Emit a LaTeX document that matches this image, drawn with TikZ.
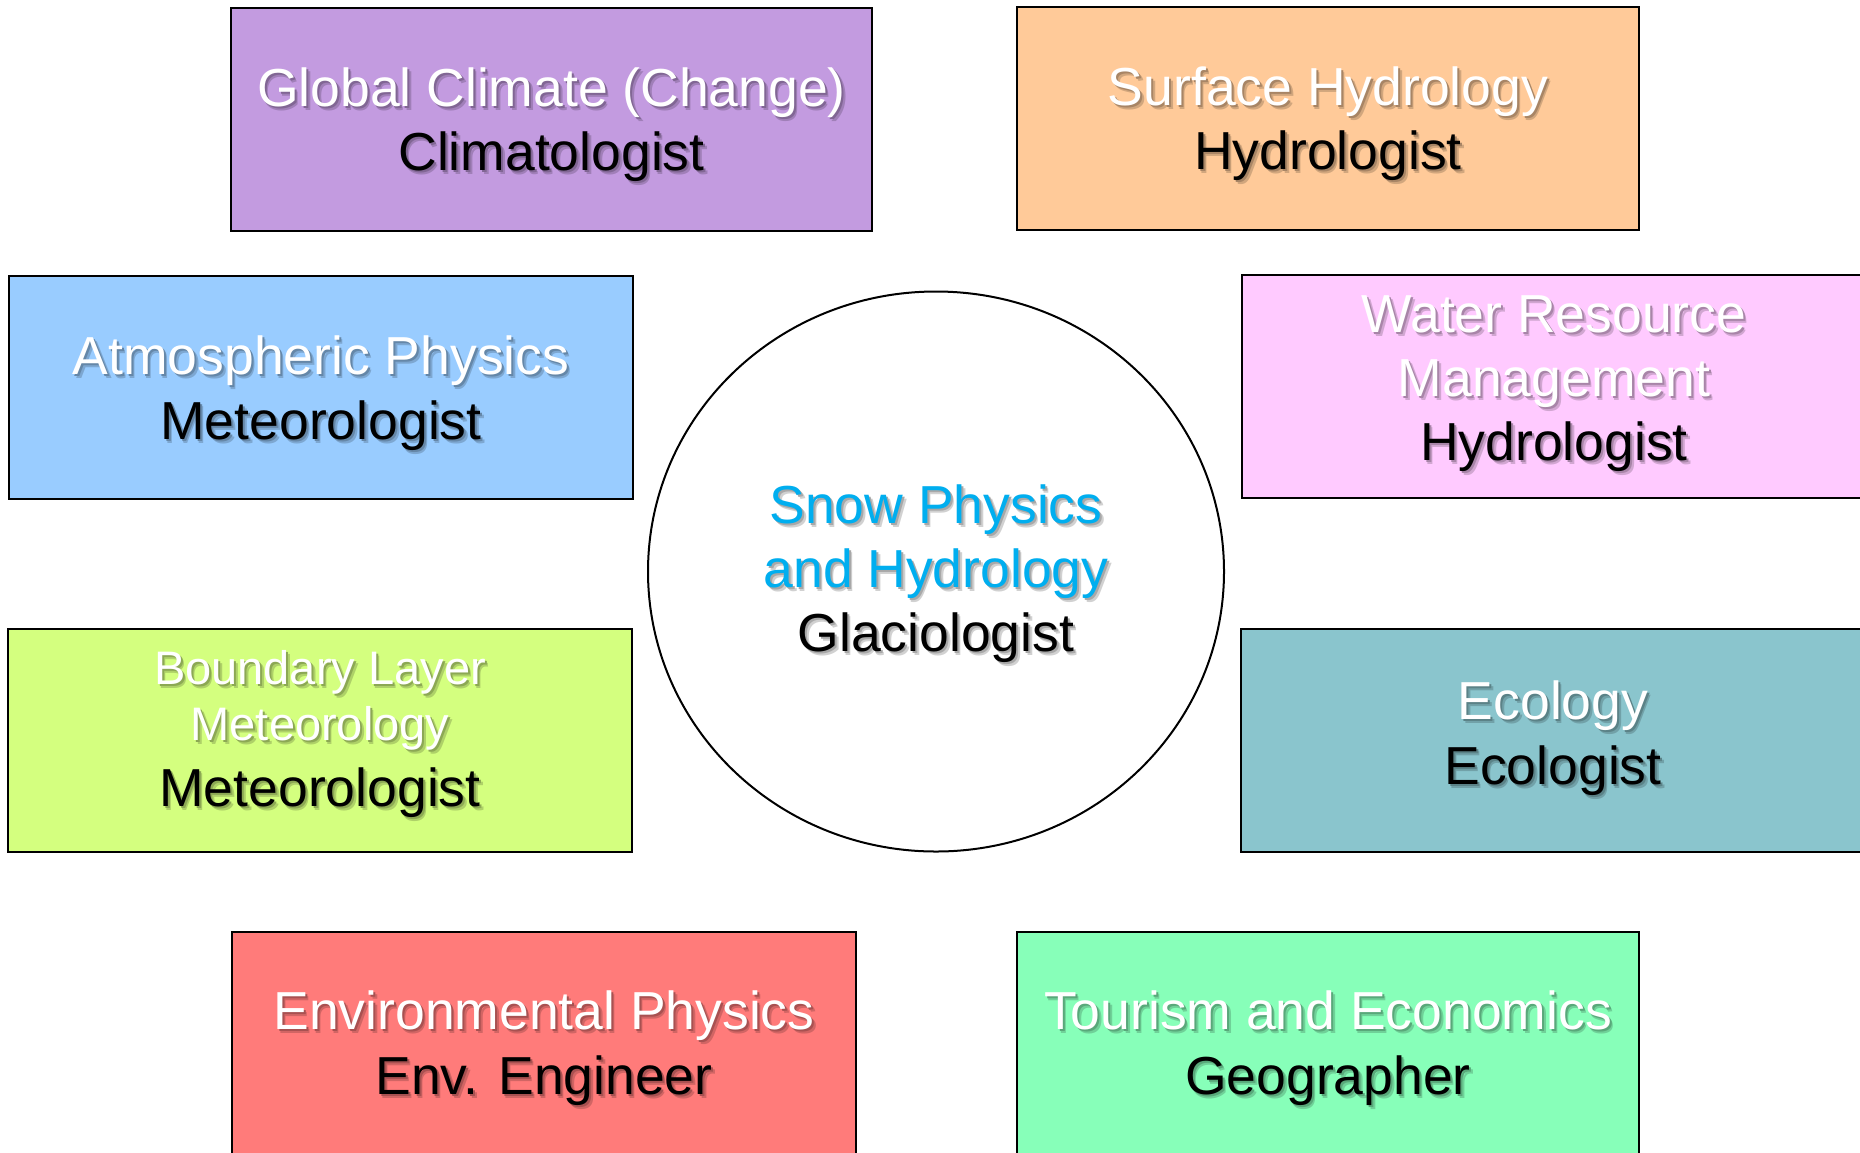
\documentclass[tikz,border=0pt]{standalone}
\usepackage{fontspec}
\setmainfont{Liberation Sans}
\usetikzlibrary{shapes.geometric}
\definecolor{cgc}{RGB}{195,155,224}
\definecolor{csh}{RGB}{255,202,153}
\definecolor{cap}{RGB}{153,204,255}
\definecolor{cwr}{RGB}{255,202,255}
\definecolor{cbl}{RGB}{212,255,127}
\definecolor{cec}{RGB}{138,197,205}
\definecolor{cep}{RGB}{255,123,122}
\definecolor{cte}{RGB}{135,255,185}
\definecolor{cblue}{RGB}{0,174,239}
\tikzset{
  boxst/.style={draw=black, line width=1.5pt, inner sep=0pt, minimum height=223pt, minimum width=624pt},
  lbl/.style={anchor=base, inner sep=0pt},
}
% shadowed text: #1 background colour, #2 text colour, #3 text
\newcommand\shd[3]{%
  \rlap{\kern3.5pt\raisebox{-4.5pt}{\color{#1!82!black}#3}}%
  \rlap{\kern2pt\raisebox{-2.5pt}{\color{#1!66!black}#3}}%
  {\color{#2}#3}}
% #1 name, #2 x, #3 baseline y, #4 font size, #5 background, #6 colour, #7 text
\newcommand\mylbl[7]{%
  \node[lbl, font=\fontsize{#4}{#4}\selectfont] (#1) at (#2,#3) {\shd{#5}{#6}{#7}};
}
\begin{document}
\begin{tikzpicture}[x=1pt,y=-1pt]
\useasboundingbox (0,0) rectangle (1860,1152);
\fill[white] (0,0) rectangle (1860,1152);
\clip (0,0) rectangle (1860,1152);

% boxes
\node[boxst, fill=cgc, minimum width=641pt] (gc) at (551.5,119.5) {};
\node[boxst, fill=csh, minimum width=622pt] (sh) at (1328,118.5) {};
\node[boxst, fill=cap] (ap) at (321,387.5) {};
\node[boxst, fill=cwr] (wr) at (1554,386.5) {};
\node[boxst, fill=cbl] (bl) at (320,740.5) {};
\node[boxst, fill=cec] (ec) at (1553,740.5) {};
\node[boxst, fill=cep] (ep) at (544,1043.5) {};
\node[boxst, fill=cte, minimum width=622pt] (te) at (1328,1043.5) {};
\node[draw=black, line width=2pt, ellipse, inner sep=0pt, minimum width=576pt, minimum height=560pt] (core) at (936,571.5) {};

% labels
\mylbl{gcA}{551.5}{106}{53.5}{cgc}{white}{Global Climate (Change)}
\mylbl{gcB}{551.5}{170}{53.5}{cgc}{black}{Climatologist}

\mylbl{shA}{1328}{105}{53.5}{csh}{white}{Surface Hydrology}
\mylbl{shB}{1328}{169}{53.5}{csh}{black}{Hydrologist}

\mylbl{apA}{321}{374}{53.5}{cap}{white}{Atmospheric Physics}
\mylbl{apB}{321}{439}{53.5}{cap}{black}{Meteorologist}

\mylbl{wrA}{1554}{332}{53.5}{cwr}{white}{Water Resource}
\mylbl{wrB}{1554}{396}{53.5}{cwr}{white}{Management}
\mylbl{wrC}{1554}{460}{53.5}{cwr}{black}{Hydrologist}

\mylbl{blA}{320}{684}{47}{cbl}{white}{Boundary Layer}
\mylbl{blB}{320}{740}{47}{cbl}{white}{Meteorology}
\mylbl{blC}{320}{806}{53.5}{cbl}{black}{Meteorologist}

\mylbl{ecA}{1553}{719}{53.5}{cec}{white}{Ecology}
\mylbl{ecB}{1553}{784}{53.5}{cec}{black}{Ecologist}

\mylbl{epA}{544}{1029}{53.5}{cep}{white}{Environmental Physics}
\mylbl{epB}{544}{1094}{53.5}{cep}{black}{Env. Engineer}

\mylbl{teA}{1328}{1029}{53.5}{cte}{white}{Tourism and Economics}
\mylbl{teB}{1328}{1094}{53.5}{cte}{black}{Geographer}

\mylbl{coA}{936}{523}{53.5}{white}{cblue}{Snow Physics}
\mylbl{coB}{936}{587}{53.5}{white}{cblue}{and Hydrology}
\mylbl{coC}{936}{651}{53.5}{white}{black}{Glaciologist}
\end{tikzpicture}
\end{document}
